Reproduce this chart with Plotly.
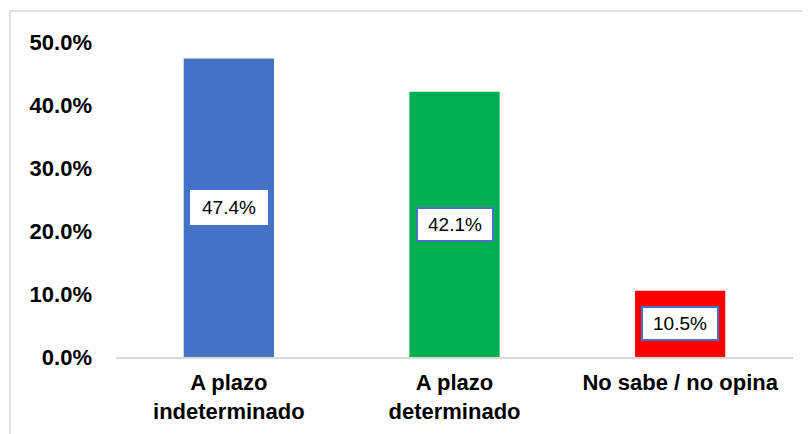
import plotly.graph_objects as go

# Data
categories = ["A plazo<br>indeterminado", "A plazo<br>determinado", "No sabe / no opina"]
values = [47.4, 42.1, 10.5]
bar_colors = ["#4472C4", "#00B050", "#FF0000"]
label_borders = ["#FFFFFF", "#4472C4", "#4472C4"]
tick_vals = [0, 10, 20, 30, 40, 50]
tick_text = ["0.0%", "10.0%", "20.0%", "30.0%", "40.0%", "50.0%"]

fig = go.Figure()

fig.add_trace(go.Bar(
    x=categories,
    y=values,
    marker=dict(color=bar_colors, line=dict(width=0)),
    width=0.4,
    hoverinfo="x+y",
    showlegend=False,
))

# Data labels in white boxes at bar middle
for cat, val, bc in zip(categories, values, label_borders):
    fig.add_annotation(
        x=cat, y=val / 2,
        text=f"{val:.1f}%",
        showarrow=False,
        font=dict(family="Liberation Sans, Arial", size=19, color="#000000"),
        bgcolor="#FFFFFF",
        bordercolor=bc,
        borderwidth=2,
        borderpad=2,
        width=70, height=27,
    )

# Light gray chart frame
fig.add_shape(
    type="rect", xref="paper", yref="paper",
    x0=-0.1566, x1=1.2, y0=-0.5, y1=1.0984,
    line=dict(color="#D9D9D9", width=1.5),
    fillcolor="rgba(0,0,0,0)",
    layer="below",
)

# page body adds 8px offset, margins compensate
fig.update_layout(
    width=811, height=434,
    margin=dict(l=108, r=26, t=34, b=85),
    paper_bgcolor="#FFFFFF",
    plot_bgcolor="#FFFFFF",
    font=dict(family="Liberation Sans, Arial", color="#000000"),
)

fig.update_yaxes(
    range=[0, 50],
    tickvals=tick_vals,
    ticktext=tick_text,
    tickfont=dict(size=22, family="Liberation Sans, Arial", weight="bold"),
    showgrid=False,
    zeroline=False,
    showline=False,
    ticks="",
    ticklabelstandoff=23,
)

fig.update_xaxes(
    tickfont=dict(size=22, family="Liberation Sans, Arial", weight="bold"),
    showline=True,
    linecolor="#D9D9D9",
    linewidth=2,
    ticks="",
    showgrid=False,
    ticklabelstandoff=5,
)

fig.write_html("out.html")
